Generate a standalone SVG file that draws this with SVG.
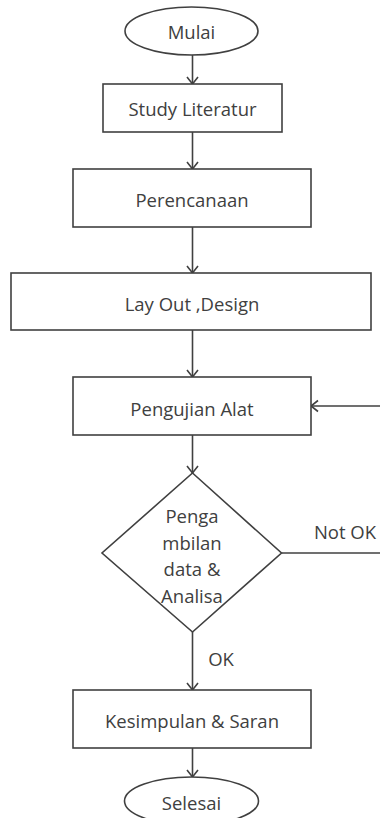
<svg xmlns="http://www.w3.org/2000/svg" width="380" height="818" viewBox="0 0 380 818">
<style>
.shape{fill:#fff;stroke:#404040;stroke-width:1.6}
.conn{fill:none;stroke:#404040;stroke-width:1.6}
text{font-family:"Open Sans","Liberation Sans",sans-serif;font-size:18.5px;fill:#404040;text-anchor:middle;dominant-baseline:central}
</style>
<defs>
<marker id="arr" markerUnits="userSpaceOnUse" markerWidth="14" markerHeight="14" viewBox="0 0 14 14" refX="12" refY="7" orient="auto">
<path d="M5,1.5 L12,7 L5,12.5" fill="none" stroke="#404040" stroke-width="1.6"/>
</marker>
</defs>
<rect width="380" height="818" fill="#fff"/>
<g id="connectors">
<line class="conn" x1="192.5" y1="55" x2="192.5" y2="84" marker-end="url(#arr)"/>
<line class="conn" x1="192.5" y1="132" x2="192.5" y2="169" marker-end="url(#arr)"/>
<line class="conn" x1="192.5" y1="227" x2="192.5" y2="273" marker-end="url(#arr)"/>
<line class="conn" x1="192.5" y1="330" x2="192.5" y2="377" marker-end="url(#arr)"/>
<line class="conn" x1="192.5" y1="435" x2="192.5" y2="473" marker-end="url(#arr)"/>
<line class="conn" x1="192.5" y1="632" x2="192.5" y2="690" marker-end="url(#arr)"/>
<line class="conn" x1="192.5" y1="748" x2="192.5" y2="777" marker-end="url(#arr)"/>
<line class="conn" x1="281.5" y1="553" x2="380" y2="553"/>
<line class="conn" x1="380" y1="406" x2="311" y2="406" marker-end="url(#arr)"/>
<text x="345" y="531">Not OK</text>
<text x="221" y="658">OK</text>
</g>
<g id="mulai">
<ellipse class="shape" cx="191.5" cy="31" rx="66.5" ry="24"/>
<text x="191.5" y="31">Mulai</text>
</g>
<g id="study">
<rect class="shape" x="103" y="84" width="179" height="48"/>
<text x="192.5" y="108">Study Literatur</text>
</g>
<g id="perencanaan">
<rect class="shape" x="73" y="169" width="238" height="58"/>
<text x="192" y="199">Perencanaan</text>
</g>
<g id="layout">
<rect class="shape" x="11" y="273" width="360" height="57"/>
<text x="192" y="303">Lay Out ,Design</text>
</g>
<g id="pengujian">
<rect class="shape" x="73" y="377" width="238" height="58"/>
<text x="192" y="408">Pengujian Alat</text>
</g>
<g id="decision">
<polygon class="shape" points="192.5,473 281.5,553 192.5,632 102,553"/>
<text x="192" y="515">Penga</text>
<text x="192" y="542">mbilan</text>
<text x="192" y="568">data &amp;</text>
<text x="192" y="595">Analisa</text>
</g>
<g id="kesimpulan">
<rect class="shape" x="73" y="690" width="238" height="58"/>
<text x="192" y="720">Kesimpulan &amp; Saran</text>
</g>
<g id="selesai">
<ellipse class="shape" cx="191.5" cy="801" rx="67" ry="24"/>
<text x="191.5" y="802">Selesai</text>
</g>
</svg>
